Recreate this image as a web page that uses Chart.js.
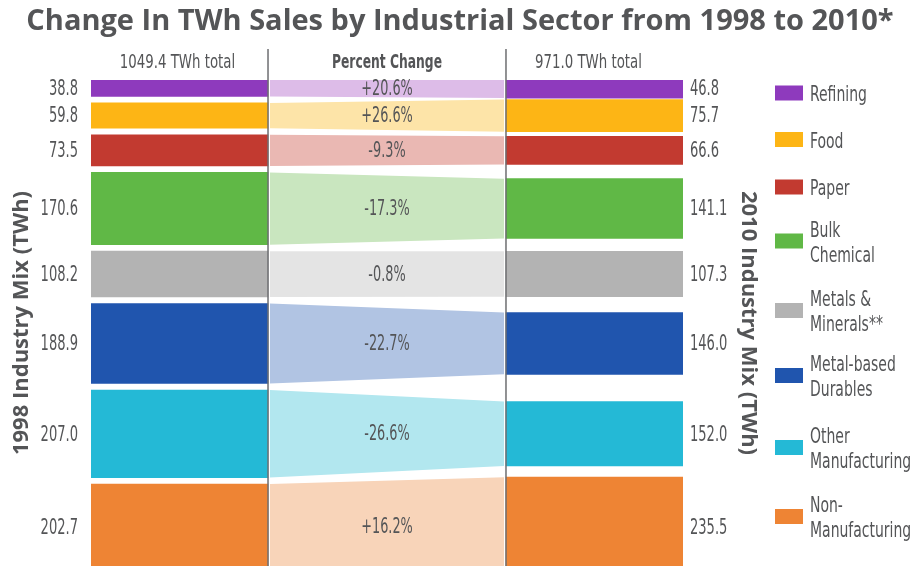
<!DOCTYPE html>
<html>
<head>
<meta charset="utf-8">
<script src="https://cdn.jsdelivr.net/npm/chart.js@4.4.1/dist/chart.umd.min.js"></script>
<style>
html, body { margin: 0; padding: 0; background: #fff; }
#wrap { width: 920px; height: 566px; position: relative; }
</style>
</head>
<body>
<div id="wrap"><canvas id="mix"></canvas></div>
<script>
// data
const sectors = ['Refining', 'Food', 'Paper', 'Bulk\nChemical', 'Metals &\nMinerals**',
  'Metal-based\nDurables', 'Other\nManufacturing', 'Non-\nManufacturing'];
const twh1998 = [38.8, 59.8, 73.5, 170.6, 108.2, 188.9, 207.0, 202.7];
const twh2010 = [46.8, 75.7, 66.6, 141.1, 107.3, 146.0, 152.0, 235.5];
const pctChange = ['+20.6%', '+26.6%', '-9.3%', '-17.3%', '-0.8%', '-22.7%', '-26.6%', '+16.2%'];
const columnHeads = ['1049.4 TWh total', 'Percent Change', '971.0 TWh total'];

const barColors = ['#8e3abd', '#fdb515', '#c23a30', '#60b846', '#b3b3b3', '#2055ae', '#24b9d6', '#ee8434'];
const bandColors = ['#ddbce8', '#fde4a8', '#eab8b3', '#c9e6bf', '#e4e4e4', '#b1c4e3', '#b2e7ef', '#f8d4b9'];

const TEXT = '#545557';
const COND = "'DejaVu Sans Condensed', 'DejaVu Sans', sans-serif";
const BOLD = "'Open Sans', sans-serif";

// slots: 1998 bars stacked with a gap, 2010 bars centred on the same slot
const GAP = 15.4;
const centers = [];
let pos = 0;
twh1998.forEach(v => { centers.push(pos + v / 2); pos += v + GAP; });

const xMin = -0.2133, xMax = 1.2133;
const bandL = 0.218, bandR = 0.782;

const datasets = [];
sectors.forEach((s, i) => {
  datasets.push({
    type: 'bar',
    label: s,
    data: [
      { x: 0, y: [centers[i] - twh1998[i] / 2, centers[i] + twh1998[i] / 2] },
      { x: 1, y: [centers[i] - twh2010[i] / 2, centers[i] + twh2010[i] / 2] }
    ],
    backgroundColor: barColors[i],
    barThickness: 177,
    borderWidth: 0
  });
});
sectors.forEach((s, i) => {
  datasets.push({
    type: 'line',
    label: s + ' top',
    data: [{ x: bandL, y: centers[i] - twh1998[i] / 2 }, { x: bandR, y: centers[i] - twh2010[i] / 2 }],
    borderColor: 'rgba(0,0,0,0)', borderWidth: 0, pointRadius: 0, fill: false
  });
  datasets.push({
    type: 'line',
    label: s + ' bottom',
    data: [{ x: bandL, y: centers[i] + twh1998[i] / 2 }, { x: bandR, y: centers[i] + twh2010[i] / 2 }],
    borderColor: 'rgba(0,0,0,0)', borderWidth: 0, pointRadius: 0,
    backgroundColor: bandColors[i], fill: '-1'
  });
});

const legendY = [93, 139.5, 187, 241, 310.5, 375.5, 447.5, 516.5];

// the source uses a very narrow face, so squeeze DejaVu Condensed sideways
function squeezeText(ctx, text, x, y, size, squeeze, align, weight) {
  ctx.save();
  ctx.font = (weight || 'normal') + ' ' + size + 'px ' + COND;
  ctx.fillStyle = TEXT;
  ctx.textAlign = align;
  ctx.textBaseline = 'middle';
  ctx.translate(x, y);
  ctx.scale(squeeze, 1);
  ctx.fillText(text, 0, 0);
  ctx.restore();
}

const overlay = {
  id: 'overlay',
  afterDatasetsDraw(chart) {
    const ctx = chart.ctx;
    const area = chart.chartArea;
    const xs = chart.scales.x, ys = chart.scales.y, ys2 = chart.scales.y2;
    const bars = chart.getDatasetMeta(0).data;
    const lineL = bars[0].x + bars[0].width / 2;
    const lineR = bars[1].x - bars[1].width / 2;
    ctx.save();
    ctx.strokeStyle = '#6d6e71';
    ctx.lineWidth = 1.5;
    [lineL, lineR].forEach(px => {
      ctx.beginPath();
      ctx.moveTo(px, 49);
      ctx.lineTo(px, area.bottom);
      ctx.stroke();
    });
    ctx.restore();

    // tick labels of both value axes
    ys.ticks.forEach((t, i) => {
      squeezeText(ctx, t.label || twh1998[i].toFixed(1), area.left - 13, ys.getPixelForTick(i) + 1, 22, 0.66, 'right');
    });
    ys2.ticks.forEach((t, i) => {
      squeezeText(ctx, t.label || twh2010[i].toFixed(1), area.right + 7, ys2.getPixelForTick(i) + 1, 22, 0.66, 'left');
    });

    centers.forEach((c, i) => squeezeText(ctx, pctChange[i], xs.getPixelForValue(0.5), ys.getPixelForValue(c) + 1, 21, 0.68, 'center'));

    squeezeText(ctx, columnHeads[0], bars[0].x - 2, 63, 19, 0.78, 'center');
    squeezeText(ctx, columnHeads[1], xs.getPixelForValue(0.5), 63, 19, 0.72, 'center', 'bold');
    squeezeText(ctx, columnHeads[2], bars[1].x - 6, 63, 19, 0.78, 'center');

    // legend
    sectors.forEach((s, i) => {
      const yc = legendY[i];
      ctx.fillStyle = barColors[i];
      ctx.fillRect(775, yc - 7.5, 28, 15);
      const lines = s.split('\n');
      lines.forEach((t, k) => {
        squeezeText(ctx, t, 810, yc + 3 + (k - (lines.length - 1) / 2) * 25, 21, 0.74, 'left');
      });
    });
  }
};

new Chart(document.getElementById('mix'), {
  type: 'bar',
  data: { datasets },
  options: {
    responsive: true,
    maintainAspectRatio: false,
    animation: false,
    layout: { padding: 0, autoPadding: false },
    plugins: {
      legend: { display: false },
      tooltip: { enabled: false },
      title: {
        display: true,
        text: 'Change In TWh Sales by Industrial Sector from 1998 to 2010*',
        color: TEXT,
        font: { family: BOLD, size: 29, weight: 'bold' },
        padding: { top: 4, bottom: 41.2 }
      }
    },
    scales: {
      x: { type: 'linear', display: false, min: xMin, max: xMax, stacked: true, offset: false },
      y: {
        type: 'linear', position: 'left', reverse: true, min: 0, max: 1148, stacked: false,
        grid: { display: false }, border: { display: false },
        afterBuildTicks: s => { s.ticks = centers.map(v => ({ value: v })); },
        afterFit: s => { s.width = 91; },
        ticks: { display: false, autoSkip: false, callback: (v, i) => twh1998[i].toFixed(1) },
        title: { display: true, text: '1998 Industry Mix (TWh)', color: TEXT,
          font: { family: BOLD, size: 22, weight: 'bold' }, padding: { top: 9, bottom: 0 } }
      },
      y2: {
        type: 'linear', position: 'right', reverse: true, min: 0, max: 1148,
        grid: { display: false }, border: { display: false },
        afterBuildTicks: s => { s.ticks = centers.map(v => ({ value: v })); },
        afterFit: s => { s.width = 237; },
        ticks: { display: false, autoSkip: false, callback: (v, i) => twh2010[i].toFixed(1) },
        title: { display: true, text: '2010 Industry Mix (TWh)', color: TEXT,
          font: { family: BOLD, size: 22, weight: 'bold' }, padding: { top: 158.8, bottom: 0 } }
      }
    }
  },
  plugins: [overlay]
});
</script>
</body>
</html>
